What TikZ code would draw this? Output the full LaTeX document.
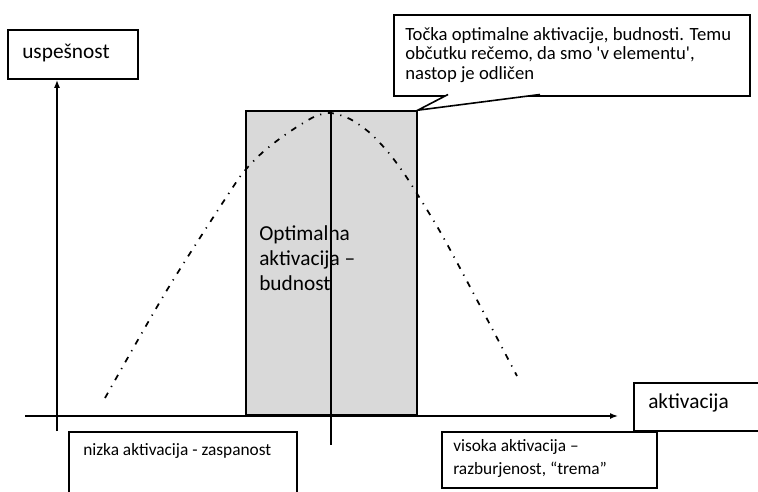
\documentclass[tikz,border=0pt]{standalone}
\usepackage{fontspec}
\setmainfont{Carlito}
\usetikzlibrary{arrows.meta}

\definecolor{optgray}{HTML}{D9D9D9}

\tikzset{
  box/.style={draw, line width=1.2pt, fill=white, inner sep=0pt},
  lbl/.style={anchor=west, inner sep=0pt, align=left},
  axis/.style={line width=1.1pt, -{Latex[length=6pt,width=4.5pt]}},
  big/.style={font=\fontsize{16pt}{18.75pt}\selectfont},
  small/.style={font=\fontsize{13pt}{16pt}\selectfont},
}

\begin{document}
\begin{tikzpicture}[x=0.75pt,y=-0.75pt]
\useasboundingbox (0,0) rectangle (758,492);
\clip (0,0) rectangle (758,492);

% optimum zone
\node[box, fill=optgray, minimum width=128.25pt, minimum height=228pt] (optimum) at (331.5,263) {};

% curve
\draw[line width=1.3pt, dash pattern=on 4.5pt off 5pt on 0.9pt off 5pt]
  plot[smooth, tension=0.5] coordinates {(105,398) (167,290) (233,187) (248,167) (263,152) (282,137)
  (300,125) (316,116) (331,113) (350,119) (370,133) (388,152) (403,172) (416,192)
  (442,235) (477,300) (517,376)};

\coordinate (peaktop) at (331,111);
\coordinate (peakbot) at (331,445);
\draw[line width=1.1pt] (peaktop) -- (peakbot);

\node[lbl, big] (optimumtxt) at (259,258) {Optimalna\\aktivacija --\\budnost};

% axes
\node[box, minimum width=97.5pt, minimum height=36.75pt] (uspesnost) at (73,54.5) {};
\node[lbl, big] (uspesnosttxt) at (22,53) {uspešnost};

\node[box, minimum width=124.5pt, minimum height=36pt] (aktivacija) at (717,407) {};
\node[lbl, big] (aktivacijatxt) at (648,403) {aktivacija};

\coordinate (ybot) at (57,431);
\coordinate (xleft) at (25,416);
\coordinate (xright) at (618,416);
\draw[axis] (ybot) -- (ybot |- uspesnost.south);
\draw[axis] (xleft) -- (xright);

% callout
\node[box, minimum width=267pt, minimum height=60.75pt] (tocka) at (572,55.5) {};
\coordinate (tailL) at (448,94.5);
\coordinate (tailR) at (540,94.5);
\fill[white] (tailL) -- (optimum.north east) -- (tailR) -- cycle;
\draw[line width=1.2pt] (tailL) -- (optimum.north east) -- (tailR);
\node[lbl, font=\fontsize{14pt}{14.6pt}\selectfont] (tockatxt) at (405,55)
  {Točka optimalne aktivacije, budnosti. Temu\\občutku rečemo, da smo \textquotesingle v elementu\textquotesingle,\\nastop je odličen};

% bottom ones
\node[box, minimum width=171pt, minimum height=66pt] (nizka) at (183,476) {};
\node[lbl, small] (nizkatxt) at (83,451) {nizka aktivacija - zaspanost};

\node[box, minimum width=161.25pt, minimum height=42pt] (visoka) at (549.5,460) {};
\node[lbl, font=\fontsize{13pt}{17pt}\selectfont] (visokatxt) at (453,458.5)
  {visoka aktivacija --\\razburjenost, “trema”};

\end{tikzpicture}
\end{document}
